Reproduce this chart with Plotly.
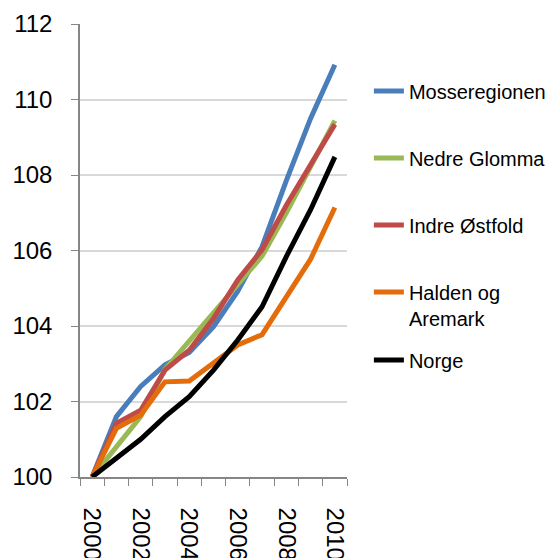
import plotly.graph_objects as go

years = list(range(2000, 2011))
tick_years = [2000, 2002, 2004, 2006, 2008, 2010]

mosseregionen = [100, 101.6, 102.4, 102.97, 103.3, 103.98, 104.92, 106.1, 107.85, 109.5, 110.92]
nedre_glomma = [100, 100.8, 101.6, 102.85, 103.6, 104.35, 105.13, 105.85, 107.0, 108.2, 109.44]
indre_ostfold = [100, 101.42, 101.77, 102.83, 103.36, 104.2, 105.22, 106.02, 107.2, 108.3, 109.34]
halden_aremark = [100, 101.29, 101.64, 102.52, 102.54, 103.01, 103.5, 103.77, 104.8, 105.77, 107.14]
norge = [100, 100.49, 101.0, 101.6, 102.13, 102.83, 103.63, 104.51, 105.84, 107.08, 108.48]

series = [
    ("Mosseregionen", mosseregionen, "#4A7EBB", "legend"),
    ("Nedre Glomma", nedre_glomma, "#98B954", "legend"),
    ("Indre Østfold", indre_ostfold, "#BE4B48", "legend"),
    ("Halden og<br>Aremark", halden_aremark, "#E46C0A", "legend"),
    ("Norge", norge, "#000000", "legend2"),
]

font = "Liberation Sans, Arial, sans-serif"

fig = go.Figure()
for i, (name, vals, col, leg) in enumerate(series):
    fig.add_trace(go.Scatter(x=years, y=vals, name=name, mode="lines",
                             legendgroup=str(i), legend=leg,
                             line=dict(color=col, width=5)))

# page has an 8px body margin, so margins are shifted by 8px
leg_style = dict(x=1.082, xanchor="left", yanchor="top", tracegroupgap=38,
                 valign="top", font=dict(size=20), bgcolor="rgba(0,0,0,0)")

fig.update_layout(
    width=557, height=550,
    margin=dict(l=72, r=218, t=16, b=81, autoexpand=False),
    plot_bgcolor="white", paper_bgcolor="white",
    font=dict(family=font, size=20, color="black"),
    legend=dict(y=0.895, **leg_style),
    legend2=dict(y=0.3015, **leg_style),
)

fig.update_yaxes(range=[100, 112], dtick=2, showgrid=True, gridcolor="#D9D9D9",
                 gridwidth=1.5, showline=True, linecolor="#868686", linewidth=1.5,
                 ticks="outside", ticklen=7, tickcolor="#868686", automargin=False,
                 tickfont=dict(size=24), ticklabelstandoff=14, zeroline=False)
fig.update_xaxes(range=[1999.5, 2010.5], tickvals=tick_years,
                 ticktext=[str(y) for y in tick_years], tickangle=90,
                 showgrid=False, showline=True, linecolor="#868686", linewidth=1.5,
                 ticks="", ticklabelstandoff=24, zeroline=False, automargin=False,
                 tickfont=dict(size=24),
                 minor=dict(tickvals=[y - 0.5 for y in years] + [2010.5],
                            ticks="outside", ticklen=7, tickcolor="#868686",
                            showgrid=False))

fig.write_html("out.html")
